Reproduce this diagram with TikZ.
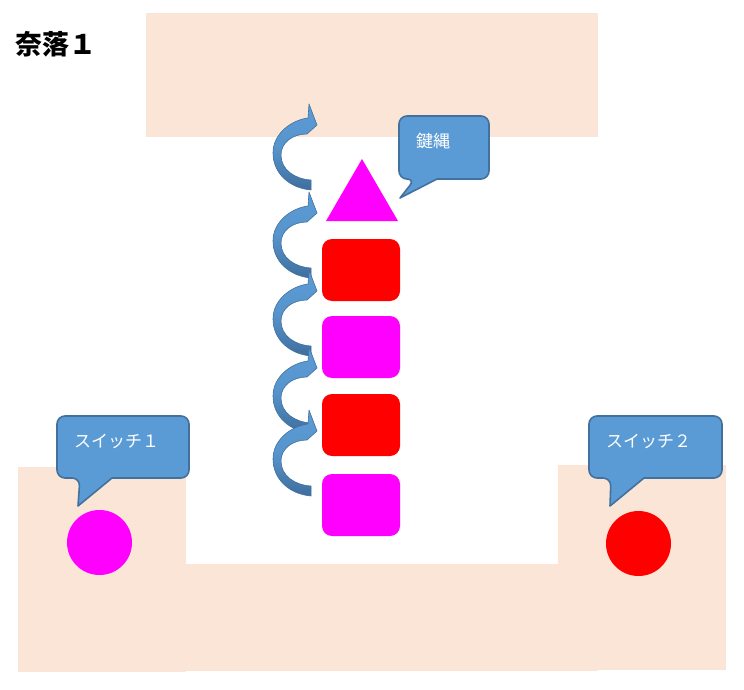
\documentclass[tikz,border=0pt]{standalone}
\usepackage{fontspec}
\newfontfamily\cjk{Noto Sans CJK JP}
\definecolor{beige}{HTML}{FBE5D6}
\definecolor{calfill}{HTML}{5B9BD5}
\definecolor{calline}{HTML}{41719C}
\definecolor{arrdark}{HTML}{3F6E9E}
\definecolor{pmag}{HTML}{FF00FF}
\definecolor{pred}{HTML}{FF0000}
\tikzset{
  floor/.style={fill=beige, draw=none},
  block/.style={draw=none, rounded corners=10pt, minimum width=78pt, minimum height=62pt, inner sep=0pt},
  ball/.style={circle, draw=none, minimum size=65pt, inner sep=0pt},
  callout/.style={fill=calfill, draw=calline, line width=1.6pt, line join=round},
  caltext/.style={text=white, font=\cjk\fontsize{17}{19}\selectfont, anchor=west, inner sep=0pt},
  carrow/.pic={
    \path[top color=calfill, bottom color=arrdark, middle color=calfill!85!arrdark, draw=calline, line width=0.6pt, line join=round]
      (0,0) -- (-8,-21) -- (-9,-7)
      .. controls (-25,-5) and (-44,8) .. (-44,28)
      .. controls (-44,48) and (-28,63) .. (-6,65)
      -- (-6,55)
      .. controls (-22,54) and (-36,45) .. (-36,30)
      .. controls (-36,18) and (-25,9) .. (-10,9)
      -- cycle;
  }
}
\begin{document}
\begin{tikzpicture}[x=1pt,y=-1pt]
\useasboundingbox (0,0) rectangle (744,690);
% floors
\path[floor] (146,13) rectangle (598,137);
\path[floor] (18,467) rectangle (186,672);
\path[floor] (186,564) rectangle (598,671);
\path[floor] (558,465) rectangle (726,670);
% title
\node[anchor=west, inner sep=0pt, font=\cjk\bfseries\fontsize{27}{30}\selectfont] (title) at (15,44) {奈落１};
% stack
\path[fill=pmag] (362,159) -- (326,221) -- (398,221) -- cycle;
\node[block, fill=pred] (b1) at (361,270) {};
\node[block, fill=pmag] (b2) at (361,347) {};
\node[block, fill=pred] (b3) at (361,425) {};
\node[block, fill=pmag] (b4) at (361,505) {};
% switches
\node[ball, fill=pmag] (sw1) at (99.5,542.5) {};
\node[ball, fill=pred] (sw2) at (638.5,543.5) {};
% curved arrows
\pic at (317,125) {carrow};
\pic at (317,213) {carrow};
\pic at (317,291) {carrow};
\pic at (317,368) {carrow};
\pic at (317,431) {carrow};
% callouts
\path[callout] (150,478) [rounded corners=8pt] -- (189,478) -- (189,416) -- (57,416) -- (57,478) -- (80,478) [sharp corners] -- (78,506) -- (112,478) -- cycle;
\node[caltext] (l1) at (74,441) {スイッチ１};
\path[callout] (690,478) [rounded corners=8pt] -- (722,478) -- (722,416) -- (589,416) -- (589,478) -- (611,478) [sharp corners] -- (610,506) -- (644,478) -- cycle;
\node[caltext] (l2) at (606,441) {スイッチ２};
\path[callout] (470,179) [rounded corners=8pt] -- (489,179) -- (489,116) -- (399,116) -- (399,179) -- (415,179) [sharp corners] -- (400,198) -- (437,179) -- cycle;
\node[caltext] (l3) at (416,141) {鍵縄};
\end{tikzpicture}
\end{document}
